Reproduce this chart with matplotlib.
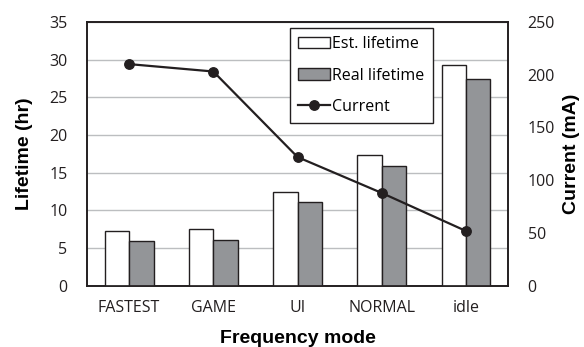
import numpy as np
import matplotlib
matplotlib.use('Agg')
import matplotlib.pyplot as plt
from matplotlib.lines import Line2D
from matplotlib.patches import Patch

plt.rcParams['font.family'] = ['Open Sans', 'DejaVu Sans']

modes = ["FASTEST", "GAME", "UI", "NORMAL", "idle"]
est_lifetime = [7.3, 7.5, 12.5, 17.3, 29.3]
real_lifetime = [6.0, 6.1, 11.1, 15.9, 27.4]
current = [210, 203, 122, 88, 52]

fig = plt.figure(figsize=(5.84, 3.47), dpi=100)
ax = fig.add_axes([0.149, 0.176, 0.721, 0.761])
ax2 = ax.twinx()

x = np.arange(len(modes))
w = 0.29
ax.bar(x - w / 2, est_lifetime, w, color='white', edgecolor='#231f20', linewidth=1, zorder=3)
ax.bar(x + w / 2, real_lifetime, w, color='#939598', edgecolor='#231f20', linewidth=1, zorder=3)
ax2.plot(x, current, color='#231f20', linewidth=1.6, marker='o', markersize=6.8, zorder=4)

ax.set_xlim(-0.5, len(modes) - 0.5)
ax.set_ylim(0, 35)
ax.set_yticks(range(0, 36, 5))
ax2.set_ylim(0, 250)
ax2.set_yticks(range(0, 251, 50))
ax.grid(axis='y', color='#bcbec0', linewidth=1, zorder=0)
ax.set_axisbelow(True)

ax.set_xticks(x)
ax.set_xticklabels(modes)
ax.tick_params(axis='both', length=0, labelsize=11.5, colors='#231f20')
ax.tick_params(axis='y', pad=14)
ax.tick_params(axis='x', pad=10)
ax2.tick_params(axis='y', length=0, labelsize=11.5, pad=14, colors='#231f20')

for a in (ax, ax2):
    for s in a.spines.values():
        s.set_color('#231f20')
        s.set_linewidth(1.2)

ax.set_xlabel("Frequency mode", fontsize=14, fontweight='bold', family='Liberation Sans', labelpad=10)
ax.set_ylabel("Lifetime (hr)", fontsize=14, fontweight='bold', family='Liberation Sans', labelpad=12)
ax2.set_ylabel("Current (mA)", fontsize=14, fontweight='bold', family='Liberation Sans', labelpad=6)

handles = [Patch(facecolor='white', edgecolor='#231f20'),
           Patch(facecolor='#939598', edgecolor='#231f20'),
           Line2D([], [], color='#231f20', marker='o', linewidth=1.6, markersize=6.8)]
leg = ax2.legend(handles, ["Est. lifetime", "Real lifetime", "Current"],
                 loc='upper left', bbox_to_anchor=(0.482, 0.975), fontsize=11.5,
                 fancybox=False, framealpha=1, edgecolor='#231f20',
                 handlelength=2.0, handletextpad=0.15, labelspacing=0.95,
                 borderpad=0.5, borderaxespad=0)
leg.get_frame().set_linewidth(1.0)

fig.savefig("out.png", dpi=100)
